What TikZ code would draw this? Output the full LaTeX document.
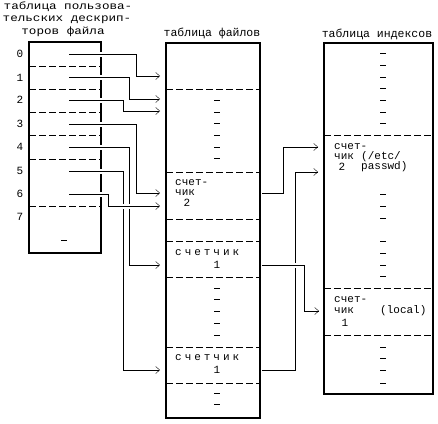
\documentclass[tikz,border=0pt]{standalone}
\usepackage{fontspec}
\setmainfont{Liberation Mono}
\newfontfamily\widemono[LetterSpace=27]{Liberation Mono}
\newfontfamily\stretchmono[FakeStretch=1.2]{Liberation Mono}
\usetikzlibrary{arrows.meta}

\tikzset{
  tabbox/.style={line width=2pt},
  sep/.style={thin, dash pattern=on 7pt off 3pt},
  dotdash/.style={thin},
  link/.style={thin, -{Straight Barb[length=4pt,width=7pt]},
    preaction={draw=white, line width=5pt, -}},
  lbl/.style={inner sep=0pt, font=\fontsize{11}{12}\selectfont},
  ttl/.style={inner sep=0pt, font=\fontsize{11.5}{12}\selectfont},
  bigttl/.style={inner sep=0pt, font=\stretchmono\fontsize{10.5}{11}\selectfont},
}

\begin{document}
\begin{tikzpicture}[x=1pt, y=-1pt]
  \useasboundingbox (0,0) rectangle (438,423);

  % user file descriptor table
  \node[bigttl] (fdttl1) at (68,7) {таблица пользова-};
  \node[bigttl] (fdttl2) at (67,19.5) {тельских дескрип-};
  \node[bigttl] (fdttl3) at (63,32) {торов файла};
  \draw[tabbox] (29,42) rectangle (101,253);
  \foreach \y in {66,89,112,135,159,206}
    \draw[sep] (29,\y) -- (101,\y);
  \foreach \n/\y in {0/54,1/78,2/100,3/124,4/147,5/171,6/194,7/217}
    \node[lbl] (fdnum\n) at (20,\y) {\n};
  \draw[dotdash] (61,240) -- (67,240);
  \foreach \n/\y in {0/54,1/77,2/100,3/124,4/147,5/171,6/194}
    \coordinate (fd\n) at (69,\y);

  % file table
  \node[ttl] (fttl) at (212,33) {таблица файлов};
  \draw[tabbox] (166,43) rectangle (260,418);
  \foreach \y in {89,172,219,241,277,347,383}
    \draw[sep] (166,\y) -- (260,\y);
  \foreach \y in {100,112,123,135,147,158,288,299,311,323,335,393,404}
    \draw[dotdash] (214,\y) -- (220,\y);
  \node[lbl, anchor=west] (fcnt2a) at (175,183) {счет-};
  \node[lbl, anchor=west] (fcnt2b) at (175,193) {чик};
  \node[lbl] (fcnt2c) at (187,203) {2};
  \node[lbl, anchor=west] (fcnt1a) at (175,253) {\widemono счетчик};
  \node[lbl] (fcnt1b) at (217,265) {1};
  \node[lbl, anchor=west] (fcnt3a) at (175,358) {\widemono счетчик};
  \node[lbl] (fcnt3b) at (217,370) {1};
  \foreach \n/\y in {0/76,1/99,2/111,3/193,4/265,5/370,6/206}
    \coordinate (f\n) at (160,\y);
  \coordinate (g2) at (262,193);
  \coordinate (g4) at (262,265);
  \coordinate (g5) at (262,370);

  % inode table
  \node[ttl] (ittl) at (377,34) {таблица индексов};
  \draw[tabbox] (324,43) rectangle (433,394);
  \foreach \y in {135,288,335}
    \draw[sep] (324,\y) -- (433,\y);
  \foreach \y in {53,65,77,88,100,112,123,194,206,218,241,253,265,276,347,358,370,383}
    \draw[dotdash] (380,\y) -- (386,\y);
  \node[lbl, anchor=west] (ipwa) at (334,147) {счет-};
  \node[lbl, anchor=west] (ipwb) at (334,157) {чик};
  \node[lbl] (ipwc) at (342,167) {2};
  \node[lbl, anchor=west] (ipwd) at (361,157) {(/etc/};
  \node[lbl, anchor=west] (ipwe) at (361,167) {passwd)};
  \node[lbl, anchor=west] (iloa) at (334,300) {счет-};
  \node[lbl, anchor=west] (ilob) at (334,311) {чик};
  \node[lbl] (iloc) at (345,323) {1};
  \node[lbl, anchor=west] (ilod) at (380,311) {(local)};
  \coordinate (i1) at (318,147);
  \coordinate (i2) at (318,172);
  \coordinate (i3) at (319,311);

  % descriptors -> file table
  \foreach \n/\b in {0/24,1/31,2/37,3/24,4/31,5/37,6/52}
    \draw[link] (fd\n) -| ([xshift=-\b pt]f\n) -- (f\n);

  % file table -> inode table
  \draw[link] (g2) -| ([xshift=-35pt]i1) -- (i1);
  \draw[link] (g5) -| ([xshift=-23pt]i2) -- (i2);
  \draw[link] (g4) -| ([xshift=-15pt]i3) -- (i3);
\end{tikzpicture}
\end{document}
